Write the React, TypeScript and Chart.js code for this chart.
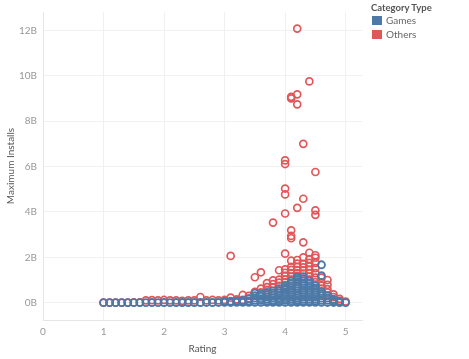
import React, { useEffect, useRef } from "react";
import { Chart, registerables } from "chart.js";

Chart.register(...registerables);

// Values: [rating, maximum installs in billions]
const gamesBaseline: [number, number][] = [
  [1.0, 0.002], [1.1, 0.001], [1.2, 0.002], [1.3, 0.001], [1.4, 0.003], [1.5, 0.002],
  [1.6, 0.004], [1.7, 0.003], [1.8, 0.005], [1.9, 0.004], [2.0, 0.006], [2.1, 0.004],
  [2.2, 0.005], [2.3, 0.006], [2.4, 0.005], [2.5, 0.008], [2.6, 0.006], [2.7, 0.01],
  [2.8, 0.008], [2.9, 0.01], [3.0, 0.012], [3.1, 0.01], [3.2, 0.015], [3.3, 0.012],
  [3.4, 0.02], [3.5, 0.02], [3.6, 0.02], [3.7, 0.02], [3.8, 0.02], [3.9, 0.02],
  [4.0, 0.02], [4.1, 0.02], [4.2, 0.02], [4.3, 0.02], [4.4, 0.02], [4.5, 0.02],
  [4.6, 0.015], [4.7, 0.01], [4.8, 0.01], [4.9, 0.005], [5.0, 0.003],
];

const gamesCluster: [number, number][] = [
  [3.0, 0.05], [3.1, 0.06], [3.2, 0.08], [3.3, 0.1], [3.3, 0.05], [3.4, 0.18], [3.4, 0.08],
  [3.5, 0.42], [3.5, 0.3], [3.5, 0.2], [3.5, 0.1],
  [3.6, 0.38], [3.6, 0.28], [3.6, 0.18], [3.6, 0.1],
  [3.7, 0.45], [3.7, 0.35], [3.7, 0.25], [3.7, 0.15], [3.7, 0.07],
  [3.8, 0.52], [3.8, 0.42], [3.8, 0.32], [3.8, 0.22], [3.8, 0.12], [3.8, 0.06],
  [3.9, 0.62], [3.9, 0.52], [3.9, 0.42], [3.9, 0.32], [3.9, 0.22], [3.9, 0.14], [3.9, 0.07],
  [4.0, 0.76], [4.0, 0.66], [4.0, 0.56], [4.0, 0.46], [4.0, 0.36], [4.0, 0.27], [4.0, 0.18], [4.0, 0.1],
  [4.1, 0.95], [4.1, 0.85], [4.1, 0.75], [4.1, 0.65], [4.1, 0.55], [4.1, 0.45], [4.1, 0.35], [4.1, 0.26], [4.1, 0.17], [4.1, 0.09],
  [4.2, 1.12], [4.2, 1.02], [4.2, 0.92], [4.2, 0.82], [4.2, 0.72], [4.2, 0.62], [4.2, 0.52], [4.2, 0.42], [4.2, 0.32], [4.2, 0.22], [4.2, 0.13], [4.2, 0.06],
  [4.3, 1.15], [4.3, 1.05], [4.3, 0.95], [4.3, 0.85], [4.3, 0.75], [4.3, 0.65], [4.3, 0.55], [4.3, 0.45], [4.3, 0.35], [4.3, 0.25], [4.3, 0.15], [4.3, 0.07],
  [4.4, 0.95], [4.4, 0.85], [4.4, 0.75], [4.4, 0.65], [4.4, 0.55], [4.4, 0.45], [4.4, 0.35], [4.4, 0.25], [4.4, 0.15], [4.4, 0.07],
  [4.5, 0.75], [4.5, 0.65], [4.5, 0.55], [4.5, 0.45], [4.5, 0.35], [4.5, 0.25], [4.5, 0.15], [4.5, 0.07],
  [4.6, 1.67], [4.6, 1.19], [4.6, 0.5], [4.6, 0.4], [4.6, 0.3], [4.6, 0.2], [4.6, 0.1],
  [4.7, 0.3], [4.7, 0.2], [4.7, 0.1], [4.8, 0.15], [4.8, 0.07], [4.9, 0.05],
];

const othersBaseline: [number, number][] = [
  [1.0, 0.004], [1.1, 0.003], [1.2, 0.005], [1.3, 0.004], [1.4, 0.006], [1.5, 0.01],
  [1.6, 0.01], [1.7, 0.1], [1.8, 0.11], [1.9, 0.1], [2.0, 0.12], [2.1, 0.1],
  [2.2, 0.1], [2.3, 0.08], [2.4, 0.1], [2.5, 0.1], [2.6, 0.25], [2.7, 0.1],
  [2.8, 0.12], [2.9, 0.1], [3.0, 0.12], [3.1, 0.22],
];

const othersCluster: [number, number][] = [
  [3.1, 2.06], [3.2, 0.15], [3.2, 0.08], [3.3, 0.34], [3.3, 0.12], [3.4, 0.3], [3.4, 0.18],
  [3.5, 1.12], [3.5, 0.48], [3.5, 0.3],
  [3.6, 1.34], [3.6, 0.62], [3.6, 0.45],
  [3.7, 0.86], [3.7, 0.69], [3.7, 0.55], [3.7, 0.4],
  [3.8, 3.53], [3.8, 0.98], [3.8, 0.82], [3.8, 0.66],
  [3.9, 1.43], [3.9, 1.02], [3.9, 0.88], [3.9, 0.74],
  [4.0, 6.27], [4.0, 6.11], [4.0, 5.03], [4.0, 4.77], [4.0, 3.93], [4.0, 2.16], [4.0, 1.47], [4.0, 1.32], [4.0, 1.18], [4.0, 1.02], [4.0, 0.9],
  [4.1, 9.07], [4.1, 9.0], [4.1, 3.19], [4.1, 2.94], [4.1, 2.84], [4.1, 1.85], [4.1, 1.58], [4.1, 1.45], [4.1, 1.3], [4.1, 1.15], [4.1, 1.02],
  [4.2, 12.08], [4.2, 9.18], [4.2, 8.74], [4.2, 4.18], [4.2, 1.88], [4.2, 1.72], [4.2, 1.58], [4.2, 1.44], [4.2, 1.3], [4.2, 1.18],
  [4.3, 7.0], [4.3, 4.58], [4.3, 2.66], [4.3, 2.0], [4.3, 1.71], [4.3, 1.56], [4.3, 1.42], [4.3, 1.28],
  [4.4, 9.75], [4.4, 2.2], [4.4, 1.92], [4.4, 1.75], [4.4, 1.6], [4.4, 1.45], [4.4, 1.3], [4.4, 1.15], [4.4, 1.02],
  [4.5, 5.76], [4.5, 4.07], [4.5, 3.87], [4.5, 2.09], [4.5, 1.98], [4.5, 1.75], [4.5, 1.52], [4.5, 1.3], [4.5, 1.1], [4.5, 0.9],
  [4.6, 1.1], [4.6, 0.9], [4.6, 0.75], [4.6, 0.62],
  [4.7, 1.0], [4.7, 0.79], [4.7, 0.6], [4.7, 0.45], [4.7, 0.32],
  [4.8, 0.37], [4.8, 0.25], [4.8, 0.12],
  [4.9, 0.17], [4.9, 0.08], [5.0, 0.05],
];

const xTicks = [0, 1, 2, 3, 4, 5];
const yTicks = [0, 2, 4, 6, 8, 10, 12];
const seriesNames = ["Games", "Others"];
const seriesColors = ["#4e79a7", "#e15759"];

const FONT = "Lato, 'Open Sans', sans-serif";

export default function App() {
  const ref = useRef<HTMLCanvasElement | null>(null);

  useEffect(() => {
    if (!ref.current) return;
    const toPts = (arr: [number, number][]) => arr.map(([x, y]) => ({ x, y }));
    const chart = new Chart(ref.current, {
      type: "scatter",
      data: {
        datasets: [
          {
            label: seriesNames[0],
            data: toPts([...gamesBaseline, ...gamesCluster]),
            borderColor: seriesColors[0],
            backgroundColor: "rgba(0,0,0,0)",
            pointRadius: 3.5,
            pointBorderWidth: 1.9,
          },
          {
            label: seriesNames[1],
            data: toPts([...othersBaseline, ...othersCluster]),
            borderColor: seriesColors[1],
            backgroundColor: "rgba(0,0,0,0)",
            pointRadius: 3.5,
            pointBorderWidth: 1.7,
          },
        ],
      },
      options: {
        animation: false,
        responsive: false,
        layout: { padding: { left: 0, top: 0, right: 107, bottom: 0 } },
        plugins: { legend: { display: false }, tooltip: { enabled: false } },
        scales: {
          x: {
            type: "linear",
            min: 0,
            max: 5.27,
            afterBuildTicks: (s: any) => { s.ticks = xTicks.map((v) => ({ value: v })); },
            afterFit: (s: any) => { s.height = 39; },
            grid: { color: "#f0f0f0", drawTicks: false, lineWidth: 1 },
            border: { color: "#e6e6e6" },
            ticks: {
              padding: 6,
              color: "#999",
              font: { family: FONT, size: 10 },
              callback: (v: any) => String(v),
            },
            title: {
              display: true,
              text: "Rating",
              color: "#555",
              font: { family: FONT, size: 10 },
              padding: { top: 0, bottom: 4 },
            },
          },
          y: {
            type: "linear",
            min: -0.763,
            max: 12.81,
            afterBuildTicks: (s: any) => { s.ticks = yTicks.map((v) => ({ value: v })); },
            afterFit: (s: any) => { s.width = 43; },
            grid: { color: "#f0f0f0", drawTicks: false, lineWidth: 1 },
            border: { color: "#e6e6e6" },
            ticks: {
              padding: 6,
              color: "#999",
              font: { family: FONT, size: 10 },
              callback: (v: any) => `${v}B`,
            },
            title: {
              display: true,
              text: "Maximum Installs",
              color: "#555",
              font: { family: FONT, size: 10 },
              padding: { top: 5, bottom: 0 },
            },
          },
        },
      },
    });
    return () => chart.destroy();
  }, []);

  return (
    <div style={{ position: "fixed", left: 0, top: 0, width: 469, height: 359, background: "#fff" }}>
      <canvas ref={ref} width={469} height={359} style={{ display: "block" }} />
      <div style={{ position: "absolute", left: 371, top: 2, fontFamily: FONT, fontSize: 9.5, fontWeight: "bold", color: "#555" }}>
        Category Type
      </div>
      {seriesNames.map((n, i) => (
        <div key={n} style={{ position: "absolute", left: 372, top: 16 + i * 14, display: "flex", alignItems: "center", fontFamily: FONT, fontSize: 10, color: "#666" }}>
          <span style={{ display: "inline-block", width: 10, height: 9, background: seriesColors[i], marginRight: 4 }} />
          <span style={{ lineHeight: "9px" }}>{n}</span>
        </div>
      ))}
    </div>
  );
}
